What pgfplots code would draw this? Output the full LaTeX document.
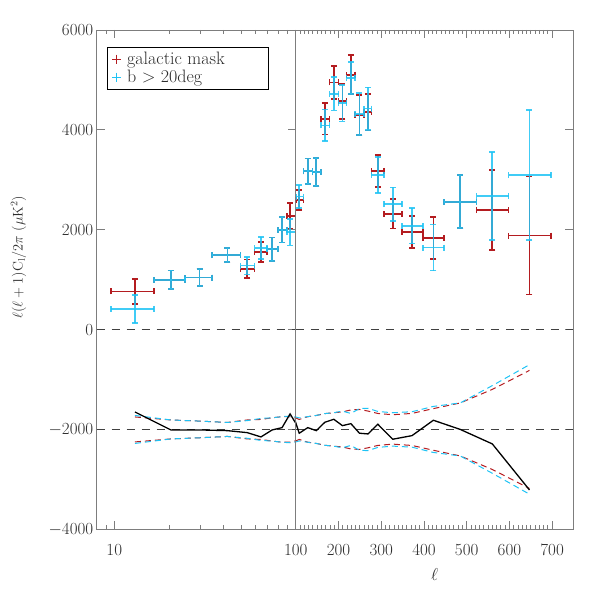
\documentclass[border=0pt]{standalone}
\usepackage{pgfplots}
\pgfplotsset{compat=1.18}
\usepackage{pgfplotstable}
\usepackage{fontspec}
\definecolor{mred}{RGB}{180,28,32}
\definecolor{mcyan}{RGB}{30,195,245}
\definecolor{axgray}{RGB}{125,125,125}
\definecolor{txt}{RGB}{45,45,45}

% galactic mask, l < 100 and l > 100: l, bin low, bin high, value, error
\pgfplotstableread{
l lo hi y e
13 9.6 16.6 765 250
20.5 16.6 24.5 996 190
29.5 24.5 34.6 1042 167
42 34.6 49.6 1491 140
54 49.6 59.3 1216 190
64.3 59.3 69.3 1557 200
74.1 69.3 79.6 1611 233
84 79.6 89.2 1998 256
93 89.2 100 2279 254
}\redL
\pgfplotstableread{
l lo hi y e
108 100 118 2589 200
128 118 139 3170 256
148 139 159 3154 280
168 159 179 4222 317
189 179 200 4950 335
209 200 219 4573 351
229 219 239 5104 391
249 239 259 4303 400
269 259 277 4357 368
292 277 307 3180 320
327 307 348 2319 294
372 348 397 1958 321
422 397 447 1832 417
485 447 523 2559 531
560 523 598 2393 802
647 598 697 1884 1182
}\redR
% b > 20deg
\pgfplotstableread{
l lo hi y e
13 9.6 16.6 415 280
20.5 16.6 24.5 996 190
29.5 24.5 34.6 1042 167
42 34.6 49.6 1491 140
54 49.6 59.3 1283 177
64.3 59.3 69.3 1637 220
74.1 69.3 79.6 1611 233
84 79.6 89.2 1998 256
93 89.2 100 1952 267
}\cyanL
\pgfplotstableread{
l lo hi y e
108 100 118 2665 230
128 118 139 3170 256
148 139 159 3154 280
168 159 179 4088 317
189 179 200 4723 335
209 200 219 4537 367
229 219 239 5038 320
249 239 259 4319 418
269 259 277 4427 424
292 277 307 3100 360
327 307 348 2513 334
372 348 397 2078 355
422 397 447 1643 461
485 447 523 2559 531
560 523 598 2679 878
647 598 697 3094 1297
}\cyanR
% difference (offset -2000) and error envelopes
\pgfplotstableread{
l d ru rl cu cl
13 -1650 -1750 -2250 -1720 -2280
20.5 -2010 -1810 -2190 -1810 -2190
29.5 -2010 -1833 -2167 -1833 -2167
42 -2024 -1860 -2140 -1860 -2140
54 -2064 -1810 -2190 -1823 -2177
64.3 -2150 -1800 -2200 -1780 -2220
74.1 -2010 -1767 -2233 -1767 -2233
84 -1964 -1744 -2256 -1744 -2256
93 -1689 -1746 -2254 -1733 -2267
108 -2076 -1800 -2200 -1770 -2230
128 -1964 -1744 -2256 -1744 -2256
148 -2024 -1720 -2280 -1720 -2280
168 -1856 -1683 -2317 -1683 -2317
189 -1796 -1665 -2335 -1665 -2335
209 -1924 -1649 -2351 -1633 -2367
229 -1884 -1609 -2391 -1680 -2320
249 -2076 -1600 -2400 -1582 -2418
269 -2090 -1632 -2368 -1576 -2424
292 -1896 -1680 -2320 -1640 -2360
327 -2196 -1706 -2294 -1666 -2334
372 -2124 -1679 -2321 -1645 -2355
422 -1816 -1583 -2417 -1539 -2461
485 -2000 -1469 -2531 -1469 -2531
560 -2290 -1198 -2802 -1122 -2878
647 -3212 -818 -3182 -703 -3297
}\lines

\newcommand{\tickfont}{\fontsize{17bp}{19bp}\selectfont}
\pgfplotsset{
  panel/.style={
    scale only axis, height=499.3bp,
    ymin=-4000, ymax=6000,
    ytick={-4000,-2000,0,2000,4000,6000},
    axis line style={axgray, line width=0.8bp},
    tick style={axgray, line width=0.8bp},
    major tick length=8bp, minor tick length=4bp,
    ticklabel style={font=\tickfont, text=txt},
    xticklabel style={yshift=-11bp},
    label style={text=txt},
    every error bar/.append style={line width=1.7bp},
  },
  ebx/.style 2 args={draw=none, mark=none, forget plot, color=#1, line width=1.7bp,
    error bars/.cd, x dir=both, x explicit,
    error bar style={draw=#1, solid, line width=1.7bp, draw opacity=#2},
    error mark options={draw=#1, solid, line width=1.7bp, mark size=3bp, rotate=90, draw opacity=#2}},
  eby/.style 2 args={draw=none, mark=none, forget plot, color=#1, line width=1.7bp,
    error bars/.cd, y dir=both, y explicit,
    error bar style={draw=#1, solid, line width=1.7bp, draw opacity=#2},
    error mark options={draw=#1, solid, line width=1.7bp, mark size=3bp, rotate=90, draw opacity=#2}},
  envl/.style={#1, line width=1bp, dash pattern=on 6bp off 4bp, forget plot},
  zline/.style={black!75, line width=1.5bp, dash pattern=on 8bp off 7bp, forget plot},
}
\newcommand{\bars}[3]{%
  \addplot[ebx={#2}{#3}] table[x=l, y=y, x error minus expr=\thisrow{l}-\thisrow{lo}, x error plus expr=\thisrow{hi}-\thisrow{l}] {#1};
  \addplot[eby={#2}{#3}] table[x=l, y=y, y error=e] {#1};
}

\begin{document}
\begin{tikzpicture}
\begin{axis}[panel, at={(0,0)}, anchor=south west, width=199.1bp,
  xmode=log, xmin=8, xmax=100,
  xtick={10,100}, xticklabels={10,{}},
  minor xtick={8,9,20,30,40,50,60,70,80,90},
  yticklabels={$-$4000,$-$2000,0,2000,4000,6000},
  ylabel={$\ell(\ell+1)\mathrm{C_l}/2\pi\ (\mu\mathrm{K}^2)$},
  ylabel style={font=\fontsize{14bp}{16bp}\selectfont, at={(axis description cs:-0.392,0.545)}, anchor=center},
  legend style={at={(axis description cs:0.0502,0.9666)}, anchor=north west,
    draw=black, line width=1bp, fill=white,
    font=\fontsize{18bp}{19bp}\selectfont,
    text=txt, inner xsep=5bp, inner ysep=3bp, row sep=0bp},
  legend cell align=left,
]
\addlegendimage{only marks, mark=+, mark size=4.5bp, mred, line width=1bp}
\addlegendentry{\makebox[138bp][l]{\hspace{4bp}galactic mask}}
\addlegendimage{only marks, mark=+, mark size=4.5bp, mcyan, line width=1bp}
\addlegendentry{\makebox[138bp][l]{\hspace{4bp}b > 20deg}}
\addplot[zline] coordinates {(8,0) (100,0)};
\addplot[zline] coordinates {(8,-2000) (100,-2000)};
\addplot[envl=mred] table[x=l, y=ru] {\lines};
\addplot[envl=mred] table[x=l, y=rl] {\lines};
\addplot[envl=mcyan] table[x=l, y=cu] {\lines};
\addplot[envl=mcyan] table[x=l, y=cl] {\lines};
\addplot[black, line width=1.3bp, forget plot] table[x=l, y=d] {\lines};
\bars{\redL}{mred}{1}
\bars{\cyanL}{mcyan}{0.85}
\end{axis}

\begin{axis}[panel, at={(199.1bp,0)}, anchor=south west, width=277.7bp,
  xmin=100, xmax=750,
  xtick={100,200,...,700}, xticklabels={100,200,300,400,500,600,700},
  minor x tick num=9,
  ytick pos=right, yticklabels={},
  xlabel={$\ell$},
  xlabel style={font=\fontsize{16bp}{18bp}\selectfont, yshift=-6bp},
]
\addplot[zline] coordinates {(100,0) (750,0)};
\addplot[zline] coordinates {(100,-2000) (750,-2000)};
\addplot[envl=mred] table[x=l, y=ru] {\lines};
\addplot[envl=mred] table[x=l, y=rl] {\lines};
\addplot[envl=mcyan] table[x=l, y=cu] {\lines};
\addplot[envl=mcyan] table[x=l, y=cl] {\lines};
\addplot[black, line width=1.3bp, forget plot] table[x=l, y=d] {\lines};
\bars{\redR}{mred}{1}
\bars{\cyanR}{mcyan}{0.85}
\end{axis}
\pgfresetboundingbox
\path[use as bounding box] (-96.7bp,-61.7bp) rectangle (494.3bp,529.3bp);
\end{tikzpicture}
\end{document}
